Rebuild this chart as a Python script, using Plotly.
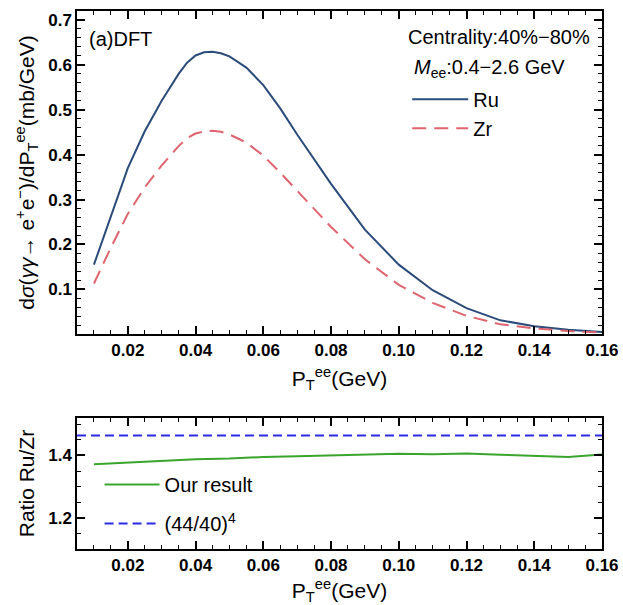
import plotly.graph_objects as go

# ---------------- data ----------------
pt = [0.01, 0.015, 0.02, 0.025, 0.03, 0.035, 0.0375, 0.04, 0.0425, 0.045, 0.0475,
      0.05, 0.055, 0.06, 0.065, 0.07, 0.075, 0.08, 0.09, 0.10, 0.11, 0.12, 0.13,
      0.14, 0.15, 0.16]
ru = [0.155, 0.265, 0.37, 0.452, 0.52, 0.58, 0.605, 0.621, 0.628, 0.629, 0.626,
      0.619, 0.594, 0.555, 0.503, 0.445, 0.39, 0.335, 0.233, 0.155, 0.098, 0.058, 0.031,
      0.018, 0.010, 0.005]
zr = [0.113, 0.193, 0.268, 0.327, 0.376, 0.419, 0.437, 0.447, 0.452, 0.453, 0.451,
      0.445, 0.427, 0.398, 0.360, 0.319, 0.279, 0.239, 0.167, 0.110, 0.070, 0.041, 0.022,
      0.013, 0.007, 0.0036]

pt_ratio = [0.01, 0.02, 0.03, 0.04, 0.05, 0.06, 0.07, 0.08, 0.09, 0.10,
            0.11, 0.12, 0.13, 0.14, 0.15, 0.16]
ratio = [1.372, 1.378, 1.382, 1.388, 1.390, 1.395, 1.397, 1.400, 1.403, 1.405,
         1.404, 1.406, 1.402, 1.399, 1.395, 1.403]
ratio_ref = (44 / 40) ** 4
ratio_ref_x = [0.005, 0.16]

# tick spacing (labels: 0.02 ... 0.16 ; 0.1 ... 0.7 ; 1.2, 1.4)
x_dtick, x_minor = 0.02, 0.005
y1_dtick, y1_minor = 0.1, 0.02
y2_dtick, y2_minor = 0.2, 0.05

FONT = "Liberation Sans"
RU_C = "#2b4b7b"
ZR_C = "#e0646f"
GR_C = "#3aa52c"
BL_C = "#2b2be6"

fig = go.Figure()
fig.add_trace(go.Scatter(x=pt, y=ru, mode="lines", name="Ru",
                         line=dict(color=RU_C, width=2),
                         xaxis="x", yaxis="y", legend="legend"))
fig.add_trace(go.Scatter(x=pt, y=zr, mode="lines", name="Zr",
                         line=dict(color=ZR_C, width=2, dash="14px,8px"),
                         xaxis="x", yaxis="y", legend="legend"))
fig.add_trace(go.Scatter(x=pt_ratio, y=ratio, mode="lines", name="Our result",
                         line=dict(color=GR_C, width=2),
                         xaxis="x2", yaxis="y2", legend="legend2"))
fig.add_trace(go.Scatter(x=ratio_ref_x, y=[ratio_ref] * len(ratio_ref_x), mode="lines",
                         name="(44/40)<sup>4</sup>",
                         line=dict(color=BL_C, width=2, dash="9px,5px"),
                         xaxis="x2", yaxis="y2", legend="legend3"))

axis_common = dict(showline=True, linecolor="black", linewidth=1.5, mirror="allticks",
                   ticks="inside", ticklen=8, tickwidth=1.5, tickcolor="black",
                   showgrid=False, zeroline=False, automargin=False,
                   tickfont=dict(family=FONT, size=17, color="black", weight="bold"))


def minor(dt):
    return dict(ticks="inside", dtick=dt, tick0=0, ticklen=4, tickwidth=1.2,
                tickcolor="black", showgrid=False)


title_font = dict(family=FONT, size=21, color="black")
leg_font = dict(family=FONT, size=20, color="black")

fig.update_layout(
    width=623, height=605,
    margin=dict(l=77, r=21, t=11, b=56),
    paper_bgcolor="white", plot_bgcolor="white",
    font=dict(family=FONT, color="black"),
    xaxis=dict(axis_common, domain=[0, 1], anchor="y", range=[0.005, 0.16],
               tickmode="linear", tick0=0, dtick=x_dtick, tickformat=".2f",
               minor=minor(x_minor),
               title=dict(text="P<sub>T</sub><sup>ee</sup>(GeV)", font=title_font, standoff=12)),
    yaxis=dict(axis_common, domain=[0.3996, 1.0], anchor="x", range=[0.0005, 0.72],
               tickmode="linear", tick0=0, dtick=y1_dtick, tickformat=".1f",
               minor=minor(y1_minor),
               title=dict(text="d<i>σ</i>(<i>γγ</i>→ e<sup>+</sup>e<sup>−</sup>)/dP<sub>T</sub><sup>ee</sup>(mb/GeV)",
                          font=title_font, standoff=8)),
    xaxis2=dict(axis_common, domain=[0, 1], anchor="y2", range=[0.005, 0.16],
                tickmode="linear", tick0=0, dtick=x_dtick, tickformat=".2f",
                minor=minor(x_minor),
                title=dict(text="P<sub>T</sub><sup>ee</sup>(GeV)", font=title_font, standoff=10)),
    yaxis2=dict(axis_common, domain=[0, 0.2435], anchor="x2", range=[1.1, 1.52],
                tickmode="linear", tick0=0, dtick=y2_dtick, tickformat=".1f",
                minor=minor(y2_minor),
                title=dict(text="Ratio Ru/Zr", font=title_font, standoff=8)),
    legend=dict(x=0.629, y=0.872, xanchor="left", yanchor="top",
                bgcolor="rgba(0,0,0,0)", font=leg_font, itemwidth=56, tracegroupgap=0),
    legend2=dict(x=0.043, y=0.156, xanchor="left", yanchor="top",
                 bgcolor="rgba(0,0,0,0)", font=leg_font, itemwidth=55),
    legend3=dict(x=0.043, y=0.0836, xanchor="left", yanchor="top",
                 bgcolor="rgba(0,0,0,0)", font=leg_font, itemwidth=55),
    showlegend=True,
    annotations=[
        dict(text="(a)DFT", x=0.019, y=0.948, xref="paper", yref="paper",
             xanchor="left", yanchor="middle", showarrow=False,
             font=dict(family=FONT, size=20, color="black")),
        dict(text="Centrality:40%−80%", x=0.981, y=0.951, xref="paper", yref="paper",
             xanchor="right", yanchor="middle", showarrow=False,
             font=dict(family=FONT, size=20, color="black")),
        dict(text="<i>M</i><sub>ee</sub>:0.4−2.6 GeV", x=0.639, y=0.894, xref="paper", yref="paper",
             xanchor="left", yanchor="middle", showarrow=False,
             font=dict(family=FONT, size=20, color="black")),
    ],
)

fig.write_html("out.html", post_script="document.body.style.margin='0px';",
               config={"displayModeBar": False})
